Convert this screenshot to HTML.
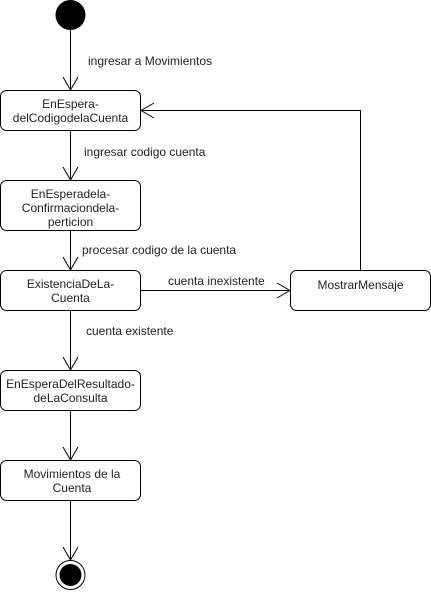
<!DOCTYPE html>
<html><head><meta charset="utf-8"><style>body{margin:0;background:#fff}</style></head><body>
<svg width="431" height="591" xmlns="http://www.w3.org/2000/svg" font-family="Liberation Sans, sans-serif" font-size="12" fill="#000">
<g fill="none" stroke="#000" stroke-width="1">
<line x1="70.5" y1="30" x2="70.5" y2="89"/><polyline points="63,77 70.5,90 78,77"/>
<line x1="70.5" y1="130" x2="70.5" y2="179"/><polyline points="63,167 70.5,180 78,167"/>
<line x1="70.5" y1="230" x2="70.5" y2="269"/><polyline points="63,257 70.5,270 78,257"/>
<line x1="70.5" y1="310" x2="70.5" y2="369"/><polyline points="63,357 70.5,370 78,357"/>
<line x1="70.5" y1="410" x2="70.5" y2="459"/><polyline points="63,447 70.5,460 78,447"/>
<line x1="70.5" y1="500" x2="70.5" y2="559"/><polyline points="63,547 70.5,560 78,547"/>
<line x1="140" y1="290.5" x2="289" y2="290.5"/><polyline points="277,283 290,290.5 277,298"/>
<polyline points="360.5,270 360.5,110.5 141,110.5"/><polyline points="154,103 141,110.5 154,118"/>
<rect x="0.5" y="90.5" width="140" height="40" rx="6"/>
<rect x="0.5" y="180.5" width="140" height="50" rx="6"/>
<rect x="0.5" y="270.5" width="140" height="40" rx="6"/>
<rect x="0.5" y="370.5" width="140" height="40" rx="6"/>
<rect x="0.5" y="460.5" width="140" height="40" rx="6"/>
<rect x="290.5" y="270.5" width="140" height="40" rx="6"/>
<circle cx="70.5" cy="575" r="14.5"/>
</g>
<circle cx="70.5" cy="15" r="15"/>
<circle cx="70.5" cy="575" r="11"/>
<g text-anchor="middle" fill="#222">
<text x="70.5" y="108">EnEspera-</text><text x="70.5" y="122">delCodigodelaCuenta</text>
<text x="70.5" y="198">EnEsperadela-</text><text x="70.5" y="212">Confirmaciondela-</text><text x="70.5" y="226">perticion</text>
<text x="70.5" y="288">ExistenciaDeLa-</text><text x="70.5" y="302">Cuenta</text>
<text x="70.5" y="388">EnEsperaDelResultado-</text><text x="70.5" y="402">deLaConsulta</text>
<text x="72" y="478">Movimientos de la</text><text x="72" y="492">Cuenta</text>
<text x="360.5" y="289">MostrarMensaje</text>
</g>
<g fill="#222">
<text x="88" y="65">ingresar a Movimientos</text>
<text x="84" y="156">ingresar codigo cuenta</text>
<text x="82" y="254">procesar codigo de la cuenta</text>
<text x="168" y="285">cuenta inexistente</text>
<text x="86" y="335">cuenta existente</text>
</g>
</svg>
</body></html>
